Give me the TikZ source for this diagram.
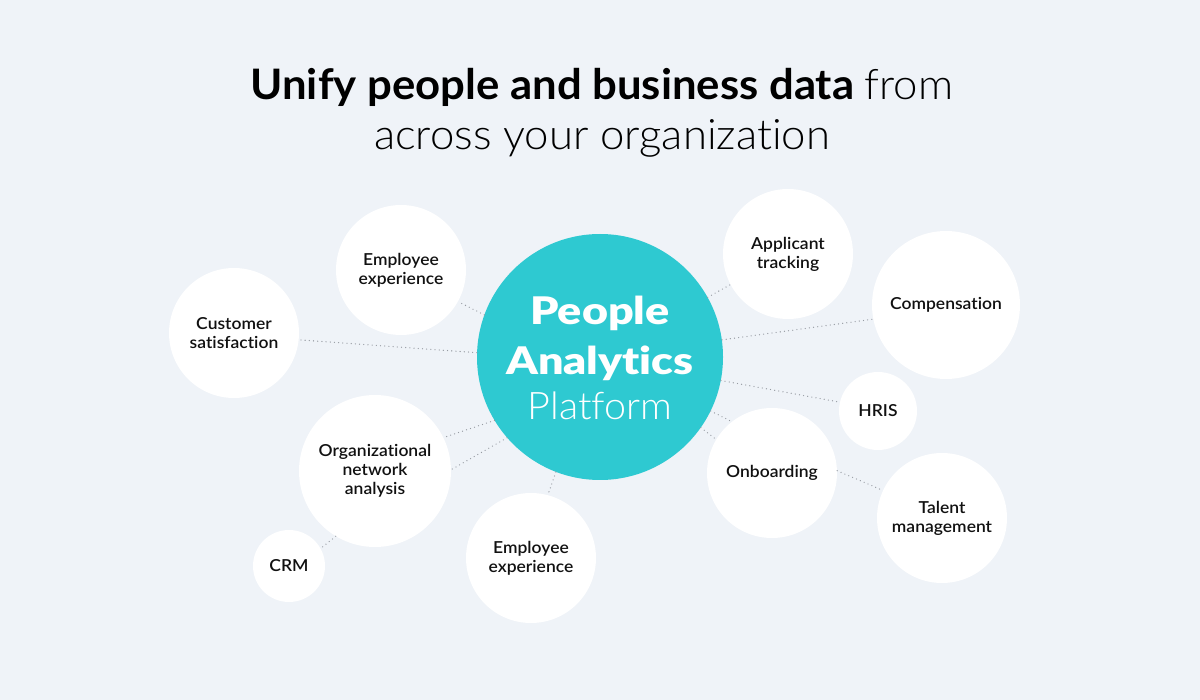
\documentclass[tikz,border=0pt]{standalone}
\usepackage{fontspec}
\defaultfontfeatures{Ligatures=NoCommon}
\setmainfont{Lato}
\IfFontExistsTF{Lato Light}{\newfontfamily\lightf{Lato Light}[FakeStretch=1.04]}{\newfontfamily\lightf{Lato}[FakeStretch=1.04]}
\IfFontExistsTF{Lato Semibold}{\newfontfamily\semif{Lato Semibold}[FakeStretch=1.06]}{\newfontfamily\semif{Lato}[FakeStretch=1.06]}
\IfFontExistsTF{Lato Black}{\newfontfamily\blackf{Lato Black}[FakeStretch=1.18]}{\newfontfamily\blackf{Lato}[FakeStretch=1.18]}
\newfontfamily\titlebf{Lato}[FakeStretch=1.04]
\definecolor{bgc}{RGB}{239,243,248}
\definecolor{teal}{RGB}{46,201,209}
\definecolor{dotc}{RGB}{150,155,162}
\definecolor{txt}{RGB}{17,17,17}
\tikzset{
  sat/.style={circle, fill=white, inner sep=0pt, align=center, text=txt,
    font=\semif\fontsize{16.5}{19}\selectfont},
  hub/.style={circle, fill=teal, inner sep=0pt, minimum size=246},
  link/.style={draw=dotc, line width=1.3pt, line cap=round, dash pattern=on 0pt off 4.2pt},
  title/.style={anchor=base, inner sep=0pt, text=black},
  hubtext/.style={anchor=base, inner sep=0pt, text=white},
}
\begin{document}
\begin{tikzpicture}[x=1pt, y=-1pt]
\fill[bgc] (0,0) rectangle (1200,700);
\useasboundingbox (0,0) rectangle (1200,700);

% title
\node[title, font=\fontsize{42}{48}\selectfont] (t1) at (602,100)
  {{\titlebf\bfseries Unify people and business data} {\lightf\mdseries from}};
\node[title, font=\lightf\fontsize{42}{48}\selectfont] (t2) at (602,150)
  {across your organization};

% hub
\node[hub] (c) at (600,357) {};
\node[hubtext, font=\blackf\fontsize{38}{46}\selectfont] (c1) at (600,325) {People};
\node[hubtext, font=\blackf\fontsize{38}{46}\selectfont] (c2) at (600,375) {Analytics};
\node[hubtext, font=\lightf\fontsize{38}{46}\selectfont] (c3) at (600,420) {Platform};

% satellites
\node[sat, minimum size=130] (e1) at (401,270) {Employee\\experience};
\node[sat, minimum size=130] (cs) at (234,333) {Customer\\satisfaction};
\node[sat, minimum size=152] (ona) at (375,471) {Organizational\\network\\analysis};
\node[sat, minimum size=72] (crm) at (289,566) {CRM};
\node[sat, minimum size=130] (e2) at (531,558) {Employee\\experience};
\node[sat, minimum size=130] (at) at (788,254) {Applicant\\tracking};
\node[sat, minimum size=148] (comp) at (946,305) {Compensation};
\node[sat, minimum size=78] (hris) at (878,411) {HRIS};
\node[sat, minimum size=130] (onb) at (772,473) {Onboarding};
\node[sat, minimum size=130] (tal) at (942,518) {Talent\\management};

% connectors
\draw[link] (c.160) -- (e1.-29);
\draw[link] (c.178) -- (cs.-6);
\draw[link] (c.211) -- (ona.26);
\draw[link] (c.221) -- (ona.1);
\draw[link] (ona.239) -- (crm.29);
\draw[link] (c.249) -- (e2.75);
\draw[link] (c.29) -- (at.208);
\draw[link] (c.8) -- (comp.191);
\draw[link] (c.-11) -- (hris.167);
\draw[link] (c.-26) -- (onb.128);
\draw[link] (c.-35) -- (onb.149);
\draw[link] (onb.2) -- (tal.155);
\end{tikzpicture}
\end{document}
